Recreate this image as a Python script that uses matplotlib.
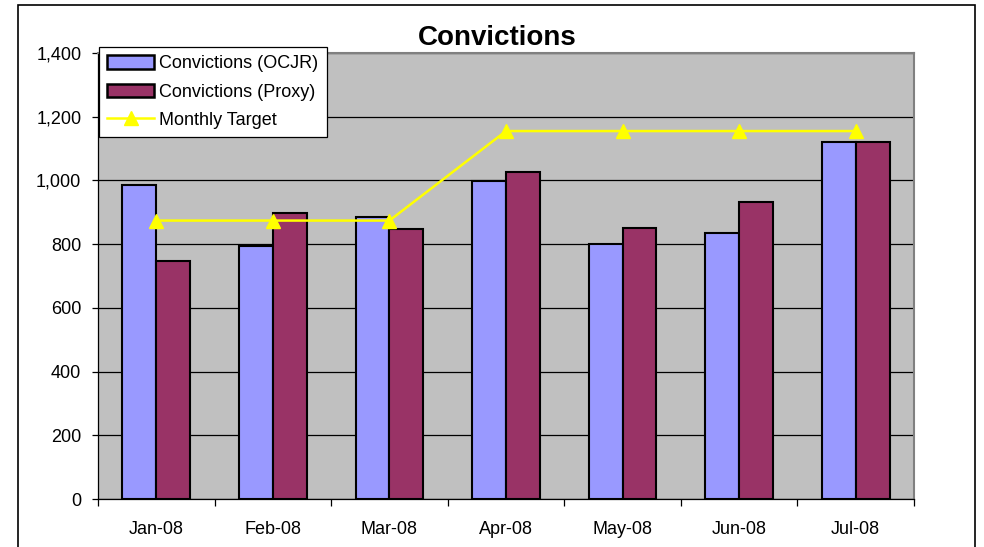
import numpy as np
import matplotlib.pyplot as plt
from matplotlib.patches import Rectangle
from matplotlib.ticker import FuncFormatter

months = ['Jan-08', 'Feb-08', 'Mar-08', 'Apr-08', 'May-08', 'Jun-08', 'Jul-08']
ocjr = [985, 795, 886, 999, 801, 836, 1121]
proxy = [746, 898, 848, 1027, 852, 933, 1121]
target = [874, 874, 874, 1155, 1155, 1155, 1155]

plt.rcParams['font.family'] = ['Liberation Sans', 'DejaVu Sans']

fig = plt.figure(figsize=(9.84, 5.47), dpi=100)
W, H = 984, 547
ax = fig.add_axes([98 / W, 1 - 499 / H, (914 - 98) / W, (499 - 53) / H])
ax.set_facecolor('#C0C0C0')

# outer chart border
fig.patches.append(Rectangle((18 / W, -0.01), (975 - 18) / W, 1 - 5 / H + 0.01,
                             transform=fig.transFigure, fill=False,
                             edgecolor='black', linewidth=1.2))

x = np.arange(len(months))
w = 0.29
b1 = ax.bar(x - w / 2, ocjr, w, color='#9999FF', edgecolor='black', linewidth=1.5,
            label='Convictions (OCJR)', zorder=3)
b2 = ax.bar(x + w / 2, proxy, w, color='#993366', edgecolor='black', linewidth=1.5,
            label='Convictions (Proxy)', zorder=3)
ln, = ax.plot(x, target, color='#FFFF00', linewidth=1.8, marker='^', markersize=10,
              label='Monthly Target', zorder=4)

ax.set_xlim(-0.5, len(months) - 0.5)
ax.set_ylim(0, 1400)
ax.set_yticks(range(0, 1401, 200))
ax.yaxis.set_major_formatter(FuncFormatter(lambda v, p: f'{int(v):,}'))
ax.yaxis.grid(True, color='black', linewidth=0.9, zorder=0)
ax.set_axisbelow(True)

ax.set_xticks(x)
ax.set_xticklabels(months)
ax.set_xticks(np.arange(-0.5, len(months)), minor=True)
ax.tick_params(axis='x', which='major', length=0, pad=16, labelsize=13)
ax.tick_params(axis='x', which='minor', length=5, width=0.9, direction='out')
ax.tick_params(axis='y', length=4, width=0.9, direction='out', labelsize=13, pad=8)

for s in ['top', 'right']:
    ax.spines[s].set_color('#808080')
    ax.spines[s].set_linewidth(1.5)
for s in ['left', 'bottom']:
    ax.spines[s].set_color('black')
    ax.spines[s].set_linewidth(0.9)

fig.text(497 / W, 1 - 38 / H, 'Convictions', ha='center', va='center',
         fontsize=20, fontweight='bold')

leg = ax.legend([b1, b2, ln], ['Convictions (OCJR)', 'Convictions (Proxy)', 'Monthly Target'],
                loc='upper left', bbox_to_anchor=(1 / 816, (499 - 47) / 446),
                fontsize=13, frameon=True, fancybox=False, framealpha=1,
                edgecolor='black', borderpad=0.45, labelspacing=0.62,
                handlelength=2.6, handleheight=0.8, handletextpad=0.3,
                borderaxespad=0)
leg.get_frame().set_linewidth(0.9)
leg.set_zorder(10)
for h in leg.legend_handles[:2]:
    h.set_linewidth(1.8)

fig.savefig('out.png', dpi=100, facecolor='white')
